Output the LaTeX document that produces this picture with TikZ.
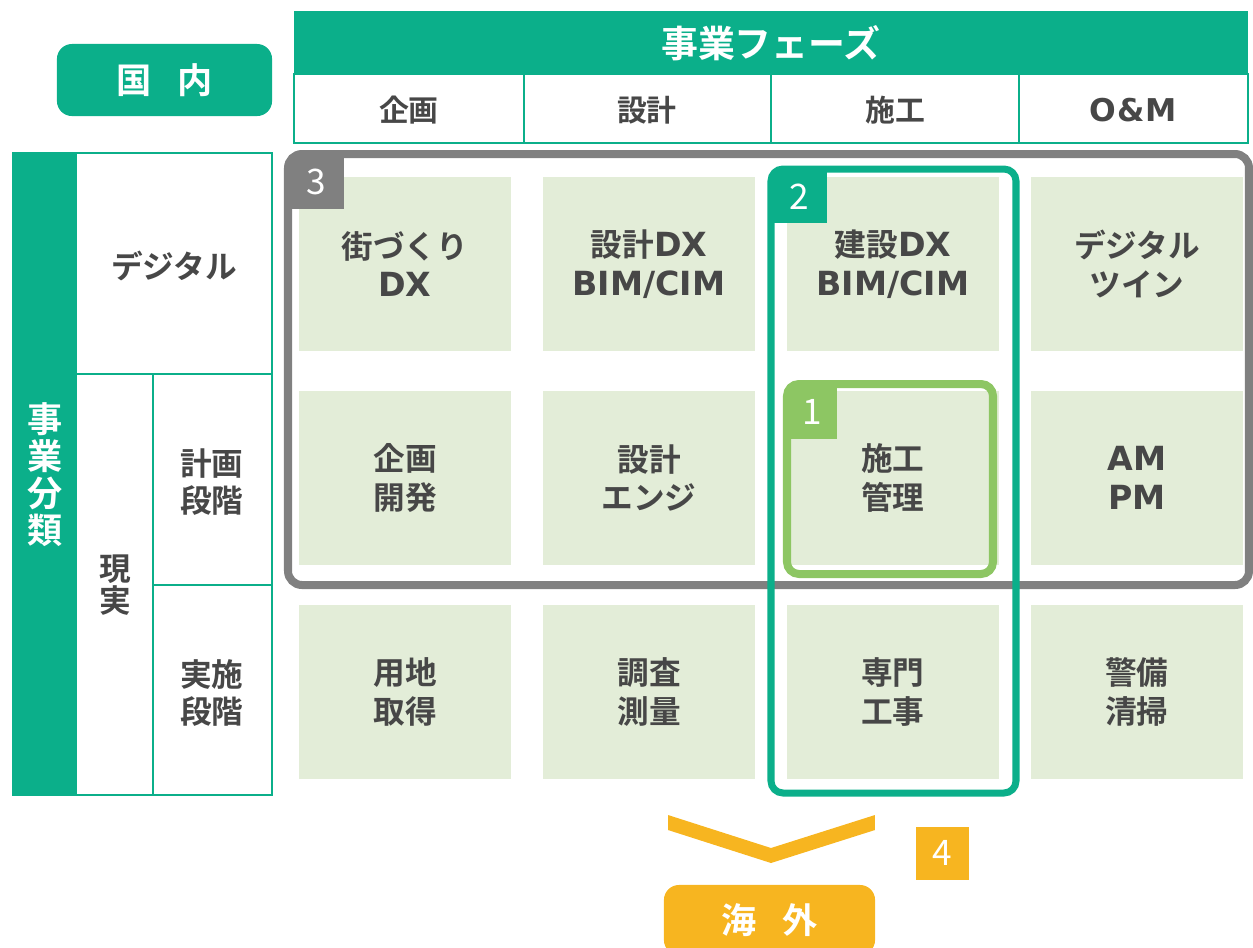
\documentclass[tikz,border=0pt]{standalone}
\usepackage{fontspec}
\setmainfont{Noto Sans CJK JP}[BoldFont={Noto Sans CJK JP Bold}]
\newfontfamily\latfont{DejaVu Sans}[Scale=1.05]
\newcommand{\latn}[1]{{\latfont\bfseries #1}}
\usepackage{tikz}
\usetikzlibrary{positioning}
\definecolor{phasegreen}{HTML}{0BAF8A}
\definecolor{cellfill}{HTML}{E3EDD8}
\definecolor{framegray}{HTML}{808080}
\definecolor{leafgreen}{HTML}{8DC663}
\definecolor{abroad}{HTML}{F7B520}
\definecolor{inktext}{HTML}{474747}

\begin{document}
\begin{tikzpicture}[x=0.01cm,y=-0.01cm,
  cell/.style={fill=cellfill,minimum width=2.12cm,minimum height=1.74cm,align=center,text=inktext,font=\bfseries\fontsize{9}{11}\selectfont},
  headlbl/.style={text=inktext,font=\bfseries\fontsize{8.5}{10}\selectfont},
  sidelbl/.style={text=inktext,align=center,font=\bfseries\fontsize{9}{10.5}\selectfont},
  numtag/.style={anchor=north west,inner sep=0pt,text=white,font=\fontsize{10}{10}\selectfont},
  pill/.style={rounded corners=0.15cm,text=white,font=\bfseries\fontsize{10}{10}\selectfont}]
\useasboundingbox (0,0) rectangle (1253,947);

\fill[phasegreen] (294,11) rectangle (1248,74);
\node[text=white,font=\bfseries\fontsize{10.5}{10.5}\selectfont] (phase) at (771,43) {事業フェーズ};
\draw[phasegreen,line width=0.02cm] (294,74) rectangle (1248,143);
\draw[phasegreen,line width=0.02cm] (524,74) -- (524,143);
\draw[phasegreen,line width=0.02cm] (771,74) -- (771,143);
\draw[phasegreen,line width=0.02cm] (1019,74) -- (1019,143);
\node[headlbl] (kikaku) at (409,110) {企画};
\node[headlbl] (sekkei) at (647,110) {設計};
\node[headlbl] (sekou) at (895,110) {施工};
\node[headlbl] (om) at (1133,110) {\latn{O\kern0.04em\&\kern0.04em M}};

\node[pill,fill=phasegreen,minimum width=2.15cm,minimum height=0.72cm] (kokunai) at (164.5,80) {国\hspace{0.75em}内};

\fill[phasegreen] (13,153) rectangle (77,795);
\draw[phasegreen,line width=0.02cm] (13,153) rectangle (272,795);
\draw[phasegreen,line width=0.02cm] (77,374) -- (272,374);
\draw[phasegreen,line width=0.02cm] (153,374) -- (153,795);
\draw[phasegreen,line width=0.02cm] (153,585) -- (272,585);
\node[align=center,text=white,font=\bfseries\fontsize{10}{10.5}\selectfont] (bunrui) at (45,475) {事\\業\\分\\類};
\node[sidelbl] (digital) at (174,266) {デジタル};
\node[sidelbl,font=\bfseries\fontsize{9}{9.2}\selectfont] (genjitsu) at (115,585) {現\\実};
\node[sidelbl] (keikaku) at (212,482) {計画\\段階};
\node[sidelbl] (jisshi) at (212,693) {実施\\段階};

\node[cell] (c11) at (405,264) {街づくり\\\latn{DX}};
\node[cell] (c12) at (649,264) {設計\latn{DX}\\\latn{BIM/CIM}};
\node[cell] (c13) at (893,264) {建設\latn{DX}\\\latn{BIM/CIM}};
\node[cell] (c14) at (1137,264) {デジタル\\ツイン};
\node[cell] (c21) at (405,478) {企画\\開発};
\node[cell] (c22) at (649,478) {設計\\エンジ};
\node[cell] (c23) at (893,478) {施工\\管理};
\node[cell] (c24) at (1137,478) {\latn{AM}\\\latn{PM}};
\node[cell] (c31) at (405,692) {用地\\取得};
\node[cell] (c32) at (649,692) {調査\\測量};
\node[cell] (c33) at (893,692) {専門\\工事};
\node[cell] (c34) at (1137,692) {警備\\清掃};

\node[numtag,fill=framegray,minimum width=0.55cm,minimum height=0.54cm] (tag3) at (288,154) {3};
\draw[framegray,line width=0.08cm,rounded corners=0.14cm] (288,154) rectangle (1249,585);

\node[numtag,fill=phasegreen,minimum width=0.55cm,minimum height=0.53cm] (tag2) at (771,169) {2};
\draw[phasegreen,line width=0.07cm,rounded corners=0.12cm] (771,169) rectangle (1016,793);

\node[numtag,fill=leafgreen,minimum width=0.49cm,minimum height=0.54cm] (tag1) at (787,384) {1};
\draw[leafgreen,line width=0.08cm,rounded corners=0.12cm] (787,384) rectangle (993,574);

\fill[abroad] (668,815) -- (771,848) -- (875,815) -- (875,830) -- (771,863) -- (668,830) -- cycle;
\node[numtag,fill=abroad,minimum width=0.53cm,minimum height=0.53cm] (tag4) at (915,826) {4};
\node[pill,fill=abroad,minimum width=2.11cm,minimum height=0.7cm] (kaigai) at (769.5,920) {海\hspace{0.75em}外};
\end{tikzpicture}
\end{document}
